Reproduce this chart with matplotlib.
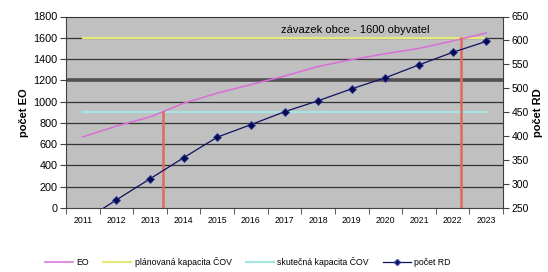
import matplotlib
matplotlib.use("Agg")
import matplotlib.pyplot as plt
from matplotlib.lines import Line2D

plt.rcParams["font.family"] = ["Liberation Sans", "DejaVu Sans"]

years = ["2011", "2012", "2013", "2014", "2015", "2016", "2017",
         "2018", "2019", "2020", "2021", "2022", "2023"]
eo = [668, 770, 856, 985, 1080, 1160, 1240, 1330, 1395, 1450, 1500, 1570, 1645]
planned_cap = [1600] * 13
actual_cap = [905] * 13
rd = [222, 267, 311, 355, 398, 424, 451, 474, 499, 522, 549, 575, 598]

# red markers: category position and height (EO reaching capacity)
red_pos = [2.38, 11.25]
red_top = [905, 1600]

note = "závazek obce - 1600 obyvatel"

x = list(range(len(years)))

fig = plt.figure(figsize=(5.48, 2.72), dpi=100)
ax = fig.add_axes([66 / 548, 1 - 208 / 272, 437 / 548, 191.5 / 272])
ax.set_facecolor("#C0C0C0")
ax.set_xlim(-0.5, 12.5)
ax.set_ylim(0, 1800)
ax.set_yticks(range(0, 1801, 200))

for v in range(200, 1800, 200):
    if v == 1200:
        ax.axhline(v, color="#505050", lw=2.6, zorder=1)
    else:
        ax.axhline(v, color="#333333", lw=0.9, zorder=1)

ax.plot(x, actual_cap, color="#A8E4E4", lw=1.6, zorder=2,
        label="skutečná kapacita ČOV")
ax.plot(x, planned_cap, color="#E8E878", lw=1.6, zorder=2,
        label="plánovaná kapacita ČOV")
ax.plot(x, eo, color="#D86ED8", lw=1.1, zorder=3, label="EO")
for p, t in zip(red_pos, red_top):
    ax.plot([p, p], [0, t], color="#E06A5A", lw=1.8, zorder=4)

ax.text(8.1, 1625, note, ha="center", va="bottom", fontsize=8, zorder=5)

ax.set_xticks(x)
ax.set_xticklabels(years, fontsize=6.3)
ax.tick_params(axis="x", which="major", length=0, pad=6)
ax.set_xticks([i - 0.5 for i in range(len(years) + 1)], minor=True)
ax.tick_params(axis="x", which="minor", length=4, direction="out", color="#404040")
ax.tick_params(axis="y", labelsize=7.8, length=4, color="#404040", pad=2)
ax.set_ylabel("počet EO", fontsize=8, fontweight="bold", labelpad=3)

for s in ["left", "bottom"]:
    ax.spines[s].set_color("#404040")
ax.spines["top"].set_color("#333333")
ax.spines["right"].set_color("#404040")

ax2 = ax.twinx()
ax2.set_ylim(250, 650)
ax2.set_yticks(range(250, 651, 50))
ax2.plot(x, rd, color="#101060", lw=0.9, marker="D", ms=3.6,
         mfc="#0A0A50", mec="#3040A0", mew=0.6, label="počet RD")
ax2.tick_params(axis="y", labelsize=7.5, length=4, color="#404040", pad=2)
ax2.set_ylabel("počet RD", fontsize=8, fontweight="bold", rotation=90, labelpad=3)
for s in ax2.spines.values():
    s.set_visible(False)

handles = [
    Line2D([], [], color="#D86ED8", lw=1.1),
    Line2D([], [], color="#E8E878", lw=1.6),
    Line2D([], [], color="#A8E4E4", lw=1.6),
    Line2D([], [], color="#101060", lw=0.9, marker="D", ms=3,
           mfc="#0A0A50", mec="#3040A0"),
]
labels = ["EO", "plánovaná kapacita ČOV", "skutečná kapacita ČOV", "počet RD"]
fig.legend(handles, labels, loc="center", bbox_to_anchor=(248 / 548, 1 - 262 / 272),
           ncol=4, frameon=False, fontsize=6.3, handlelength=3.2,
           handletextpad=0.4, columnspacing=1.6)

fig.savefig("out.png", dpi=100, facecolor="white")
